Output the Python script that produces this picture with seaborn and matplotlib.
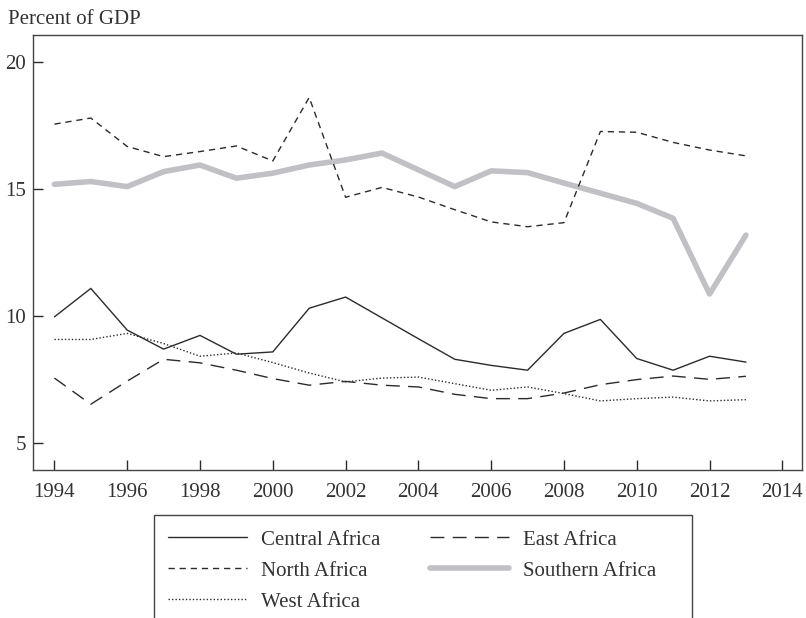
import pandas as pd
import seaborn as sns
import matplotlib.pyplot as plt
from matplotlib.patches import Rectangle

# Tax revenue by region, percent of GDP, 1994-2013
years = list(range(1994, 2014))
central = [9.98, 11.10, 9.46, 8.71, 9.25, 8.51, 8.60, 10.32, 10.76, 9.94,
           9.12, 8.31, 8.07, 7.88, 9.33, 9.88, 8.34, 7.88, 8.43, 8.20]
east = [7.57, 6.54, 7.45, 8.31, 8.17, 7.88, 7.55, 7.29, 7.44, 7.29,
        7.22, 6.93, 6.76, 6.76, 6.98, 7.31, 7.51, 7.65, 7.52, 7.64]
north = [17.57, 17.81, 16.69, 16.29, 16.49, 16.71, 16.12, 18.62, 14.69, 15.08,
         14.70, 14.20, 13.72, 13.53, 13.69, 17.28, 17.25, 16.85, 16.55, 16.32]
southern = [15.20, 15.31, 15.11, 15.70, 15.96, 15.44, 15.64, 15.96, 16.16, 16.43,
            15.77, 15.11, 15.73, 15.66, 15.25, 14.85, 14.45, 13.86, 10.88, 13.20]
west = [9.09, 9.09, 9.33, 8.93, 8.43, 8.56, 8.18, 7.77, 7.42, 7.57,
        7.61, 7.35, 7.09, 7.22, 6.96, 6.67, 6.76, 6.82, 6.67, 6.72]

sns.set_style("white")
plt.rcParams['font.family'] = ['Liberation Serif', 'DejaVu Serif']

ink = "#2b2b2b"
fig = plt.figure(figsize=(8.06, 6.18), dpi=100)
ax = fig.add_axes([33.3 / 806, 1 - 470 / 618, (802 - 33.3) / 806, (470 - 35) / 618])

# gray thick line first so the dashed lines sit on top of it
sns.lineplot(x=years, y=southern, ax=ax, color="#c1c1c5", linewidth=4, label="Southern Africa")
sns.lineplot(x=years, y=central, ax=ax, color=ink, linewidth=1.0, label="Central Africa")
sns.lineplot(x=years, y=east, ax=ax, color=ink, linewidth=1.0, linestyle=(0, (10, 6)), label="East Africa")
sns.lineplot(x=years, y=north, ax=ax, color=ink, linewidth=1.0, linestyle=(0, (4.5, 3.5)), label="North Africa")
sns.lineplot(x=years, y=west, ax=ax, color=ink, linewidth=1.0, linestyle=(0, (1, 1.5)), label="West Africa")

ax.set_xlim(1993.42, 2014.54)
ax.set_ylim(3.95, 21.08)
ax.set_xticks(range(1994, 2015, 2))
ax.set_yticks([5, 10, 15, 20])
ax.set_xlabel("")
ax.set_ylabel("")
ax.tick_params(bottom=True, left=True, direction="in", length=7, width=1, color=ink,
               labelsize=15, labelcolor="#333333", pad=5)
ax.tick_params(axis="x", pad=9.5)
for s in ax.spines.values():
    s.set_color("#444444")
    s.set_linewidth(1.0)

fig.text(8 / 806, 1 - 19 / 618, "Percent of GDP", fontsize=15, color="#333333", va="center", ha="left")

# legend below the axes, columns: Central/North/West then East/Southern
h, l = ax.get_legend_handles_labels()
lookup = dict(zip(l, h))
order = ["Central Africa", "North Africa", "West Africa", "East Africa", "Southern Africa"]
ax.get_legend().remove()
leg = fig.legend([lookup[k] for k in order], order, loc="upper left",
                 bbox_to_anchor=(168 / 806, 1 - 530 / 618), borderaxespad=0,
                 ncol=2, fontsize=15, frameon=False,
                 handlelength=3.8, handletextpad=0.65, columnspacing=2.4,
                 labelspacing=0.55, borderpad=0)
for t in leg.get_texts():
    t.set_color("#333333")

# legend box runs off the bottom of the figure
fig.patches.append(Rectangle((153.5 / 806, -0.05), (692 - 153.5) / 806, 0.05 + 1 - 515 / 618,
                             transform=fig.transFigure, fill=False, edgecolor="#444444", linewidth=1.0))

fig.savefig("out.png", dpi=100)
